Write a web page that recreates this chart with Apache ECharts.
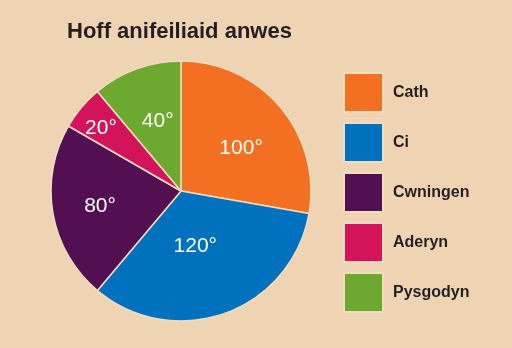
<!DOCTYPE html>
<html>
<head>
<meta charset="utf-8">
<script src="https://cdn.jsdelivr.net/npm/echarts@6/dist/echarts.min.js"></script>
<style>
html,body{margin:0;padding:0;background:#efd4b3;}
#chart{width:512px;height:348px;}
</style>
</head>
<body>
<div id="chart"></div>
<script>
const titleText = 'Hoff anifeiliaid anwes';
const categories = ['Cath', 'Ci', 'Cwningen', 'Aderyn', 'Pysgodyn'];
const degrees = [100, 120, 80, 20, 40];
const colors = ['#f36f21', '#0071bc', '#521052', '#d4145a', '#6ea92f'];
const labelOffsets = [[8, 1], [-9, -9], [-14, 3], [-28, -19], [0, -6]];

const chart = echarts.init(document.getElementById('chart'), null, {renderer: 'canvas'});
chart.setOption({
  backgroundColor: '#efd4b3',
  animation: false,
  title: {
    text: titleText,
    left: 62, top: 16,
    textStyle: {fontFamily: 'Liberation Sans', fontSize: 22, fontWeight: 'bold', color: '#231f20'}
  },
  legend: {
    orient: 'vertical',
    left: 343, top: 72,
    padding: 0,
    itemWidth: 39, itemHeight: 39, itemGap: 9,
    icon: 'rect',
    textStyle: {fontFamily: 'Liberation Sans', fontSize: 16, fontWeight: 'bold', color: '#231f20', padding: [0, 0, 0, 5]},
    data: categories
  },
  series: [{
    type: 'pie',
    center: [181, 191],
    radius: [0, 130],
    startAngle: 90,
    clockwise: true,
    avoidLabelOverlap: false,
    itemStyle: {borderColor: '#f3dcc0', borderWidth: 1.5},
    label: {
      show: true,
      position: 'inside',
      formatter: p => p.value + '°',
      fontFamily: 'Liberation Sans', fontSize: 21, color: '#fff'
    },
    labelLayout: p => ({dx: labelOffsets[p.dataIndex][0], dy: labelOffsets[p.dataIndex][1]}),
    emphasis: {disabled: true},
    data: categories.map((c, i) => ({name: c, value: degrees[i], itemStyle: {color: colors[i]}}))
  }]
});
</script>
</body>
</html>
